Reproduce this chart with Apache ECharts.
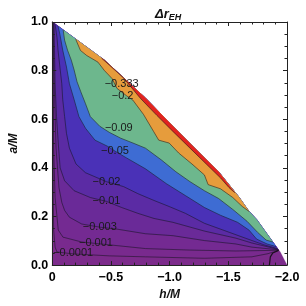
<!DOCTYPE html>
<html><head><meta charset="utf-8">
<script src="https://cdn.jsdelivr.net/npm/echarts@6/dist/echarts.min.js"></script>
<style>html,body{margin:0;padding:0;background:#fff}#c{width:306px;height:306px}</style>
</head><body><div id="c"></div>
<script>
// contour levels (labels)
const levelLabels = ['−0.0001','−0.001','−0.003','−0.01','−0.02','−0.05','−0.09','−0.2','−0.333'];
// band colours: base (>-0.0001) then each inner band
const bandColors = ['#7c2b8b','#792a8e','#742a92','#6a2a98','#5b2ba4','#4a31b7','#3e6cd3','#6db78d','#e69c3c','#e2231f'];
// extremal (horizon) edge of the domain, h/M vs a/M
const edge = [[0,1],[-0.202,0.929],[-0.445,0.843],[-0.794,0.687],[-1.012,0.579],[-1.215,0.481],[-1.417,0.384],[-1.587,0.282],[-1.676,0.221],[-1.741,0.188],[-1.879,0.095],[-1.943,0.054],[-2,0]];
// contour lines
const c0001 = [[-0.002,0.9995],[-0.004,0.685],[-0.008,0.278],[-0.012,0.144],[-0.024,0.074],[-0.040,0.054],[-0.178,0.046],[-0.332,0.042],[-0.486,0.038],[-0.794,0.034],[-1.296,0.028],[-1.700,0.034],[-1.838,0.047],[-1.930,0.061]];
const c001 = [[-0.005,0.999],[-0.008,0.766],[-0.012,0.481],[-0.024,0.278],[-0.038,0.209],[-0.051,0.144],[-0.091,0.115],[-0.251,0.095],[-0.372,0.089],[-0.494,0.083],[-0.794,0.068],[-1.158,0.062],[-1.563,0.058],[-1.929,0.061]];
const c003 = [[-0.008,0.998],[-0.012,0.847],[-0.020,0.685],[-0.032,0.481],[-0.057,0.319],[-0.081,0.258],[-0.105,0.225],[-0.146,0.197],[-0.251,0.169],[-0.405,0.156],[-0.551,0.148],[-0.794,0.129],[-1.028,0.121],[-1.296,0.101],[-1.563,0.087],[-1.700,0.074],[-1.927,0.063]];
const c01 = [[-0.015,0.996],[-0.019,0.884],[-0.024,0.746],[-0.036,0.611],[-0.054,0.481],[-0.067,0.400],[-0.105,0.347],[-0.186,0.306],[-0.324,0.278],[-0.462,0.262],[-0.591,0.237],[-0.729,0.213],[-0.866,0.192],[-1.028,0.176],[-1.296,0.140],[-1.563,0.111],[-1.700,0.091],[-1.923,0.065]];
const c02 = [[-0.024,0.991],[-0.040,0.937],[-0.049,0.884],[-0.065,0.815],[-0.081,0.746],[-0.089,0.681],[-0.105,0.611],[-0.121,0.542],[-0.146,0.481],[-0.202,0.416],[-0.283,0.380],[-0.462,0.343],[-0.607,0.323],[-0.729,0.294],[-0.866,0.266],[-0.996,0.241],[-1.134,0.213],[-1.296,0.172],[-1.433,0.148],[-1.644,0.111],[-1.806,0.083],[-1.919,0.068]];
const c05 = [[-0.049,0.983],[-0.065,0.949],[-0.089,0.884],[-0.121,0.815],[-0.146,0.746],[-0.186,0.681],[-0.227,0.611],[-0.283,0.563],[-0.364,0.514],[-0.470,0.489],[-0.534,0.469],[-0.632,0.441],[-0.794,0.396],[-0.972,0.335],[-1.134,0.286],[-1.296,0.237],[-1.433,0.205],[-1.579,0.176],[-1.676,0.144],[-1.741,0.107],[-1.830,0.087],[-1.907,0.076]];
const c09 = [[-0.093,0.967],[-0.105,0.925],[-0.130,0.884],[-0.162,0.843],[-0.186,0.803],[-0.211,0.754],[-0.243,0.713],[-0.283,0.664],[-0.324,0.611],[-0.405,0.571],[-0.486,0.546],[-0.583,0.522],[-0.688,0.502],[-0.794,0.481],[-0.931,0.432],[-1.053,0.384],[-1.174,0.343],[-1.296,0.306],[-1.417,0.274],[-1.538,0.229],[-1.660,0.180],[-1.749,0.135],[-1.822,0.103],[-1.879,0.095]];
const c2 = [[-0.200,0.929],[-0.240,0.883],[-0.294,0.862],[-0.389,0.835],[-0.443,0.801],[-0.510,0.767],[-0.551,0.727],[-0.632,0.697],[-0.686,0.679],[-0.777,0.620],[-0.864,0.549],[-0.907,0.514],[-0.996,0.502],[-1.077,0.461],[-1.190,0.416],[-1.296,0.371],[-1.328,0.331],[-1.433,0.314],[-1.538,0.278],[-1.619,0.241],[-1.676,0.221]];
const c333 = [[-0.421,0.851],[-0.486,0.823],[-0.607,0.770],[-0.753,0.685],[-0.891,0.616],[-1.028,0.550],[-1.174,0.481],[-1.312,0.416],[-1.433,0.359],[-1.506,0.319],[-1.555,0.298]];
const hook = [[-1.927,0.060],[-1.879,0.050],[-1.858,0.034],[-1.850,0]];
// label anchor points (centre of each contour label)
const labelPos = [[-0.178,0.050],[-0.372,0.091],[-0.405,0.156],[-0.462,0.262],[-0.462,0.343],[-0.534,0.469],[-0.567,0.563],[-0.599,0.697],[-0.591,0.747]];

const contours = [c0001,c001,c003,c01,c02,c05,c09,c2,c333];
function regionOf(path){
  const h0 = path[0][0], h1 = path[path.length-1][0];
  const inner = edge.filter(p => p[0] < h0 && p[0] > h1).reverse();
  return path.concat(inner);
}
const regions = [edge.concat([[0,0]])].concat(contours.map(regionOf));

const F = '"Liberation Sans", Arial, sans-serif';
const chart = echarts.init(document.getElementById('c'), null, {renderer:'canvas'});
const axBase = {
  type:'value', z:10,
  axisLine:{show:true, onZero:false, lineStyle:{color:'#222', width:1}},
  axisTick:{show:true, inside:true, length:4, lineStyle:{color:'#222', width:1}},
  minorTick:{show:true, length:2.5, lineStyle:{color:'#222', width:1}},
  splitLine:{show:false}, minorSplitLine:{show:false}
};
const xFmt = v => v === 0 ? '0' : '−' + Math.abs(v).toFixed(1);
const option = {
  animation:false,
  backgroundColor:'#fff',
  title:{
    text:'{a|Δr}{b|EH}', left:150, top:1,
    textStyle:{rich:{
      a:{fontSize:13, fontWeight:'bold', fontStyle:'italic', fontFamily:F, color:'#111', lineHeight:16},
      b:{fontSize:9, fontWeight:'bold', fontStyle:'italic', fontFamily:F, color:'#111', verticalAlign:'bottom', lineHeight:10, padding:[6,0,0,0]}
    }}
  },
  grid:{left:40, top:22, right:19, bottom:38},
  xAxis:[
    Object.assign({}, axBase, {min:-2, max:0, interval:0.5, inverse:true, position:'bottom',
      minorTick:Object.assign({}, axBase.minorTick, {splitNumber:5}),
      axisLabel:{formatter:xFmt, fontSize:12.5, fontWeight:'bold', fontFamily:F, color:'#000', margin:6},
      name:'h/M', nameLocation:'middle', nameGap:20,
      nameTextStyle:{fontSize:12, fontWeight:'bold', fontStyle:'italic', fontFamily:F, color:'#111'}}),
    Object.assign({}, axBase, {min:-2, max:0, interval:0.5, inverse:true, position:'top',
      minorTick:Object.assign({}, axBase.minorTick, {splitNumber:5}),
      axisLabel:{show:false}})
  ],
  yAxis:[
    Object.assign({}, axBase, {min:0, max:1, interval:0.2, position:'left',
      minorTick:Object.assign({}, axBase.minorTick, {splitNumber:4}),
      axisLabel:{formatter:v => v.toFixed(1), fontSize:12.5, fontWeight:'bold', fontFamily:F, color:'#000', margin:4},
      name:'a/M', nameLocation:'middle', nameGap:27, nameRotate:90,
      nameTextStyle:{fontSize:12, fontWeight:'bold', fontStyle:'italic', fontFamily:F, color:'#111'}}),
    Object.assign({}, axBase, {min:0, max:1, interval:0.2, position:'right',
      minorTick:Object.assign({}, axBase.minorTick, {splitNumber:4}),
      axisLabel:{show:false}})
  ],
  series:[
    {
      type:'custom', z:1, silent:true,
      data: regions.map((r,i) => [-1, 0.5, i]),
      encode:{x:0, y:1},
      renderItem:(params, api) => {
        const i = api.value(2);
        return {type:'polygon', z2:i,
          shape:{points: regions[i].map(p => api.coord(p))},
          style:{fill: bandColors[i], stroke: bandColors[i], lineWidth:0.3}};
      }
    }
  ].concat(contours.map(c => ({
      type:'line', z:3, silent:true, showSymbol:false, symbol:'none', data:c,
      lineStyle:{color:'rgba(20,20,30,0.6)', width:0.9}
  }))).concat([
    {type:'line', z:3, silent:true, showSymbol:false, symbol:'none', data:hook,
      lineStyle:{color:'rgba(10,10,10,0.85)', width:1.2}},
    {type:'custom', z:5, silent:true,
      data: labelPos.map((p,i) => [p[0], p[1], i]),
      encode:{x:0, y:1},
      renderItem:(params, api) => {
        const pt = api.coord([api.value(0), api.value(1)]);
        return {type:'text', x:pt[0], y:pt[1],
          style:{text: levelLabels[api.value(2)], align:'center', verticalAlign:'middle',
            fontSize:11, fontFamily:F, fill:'#1a1a1a'}};
      }}
  ])
};
chart.setOption(option);
</script></body></html>
